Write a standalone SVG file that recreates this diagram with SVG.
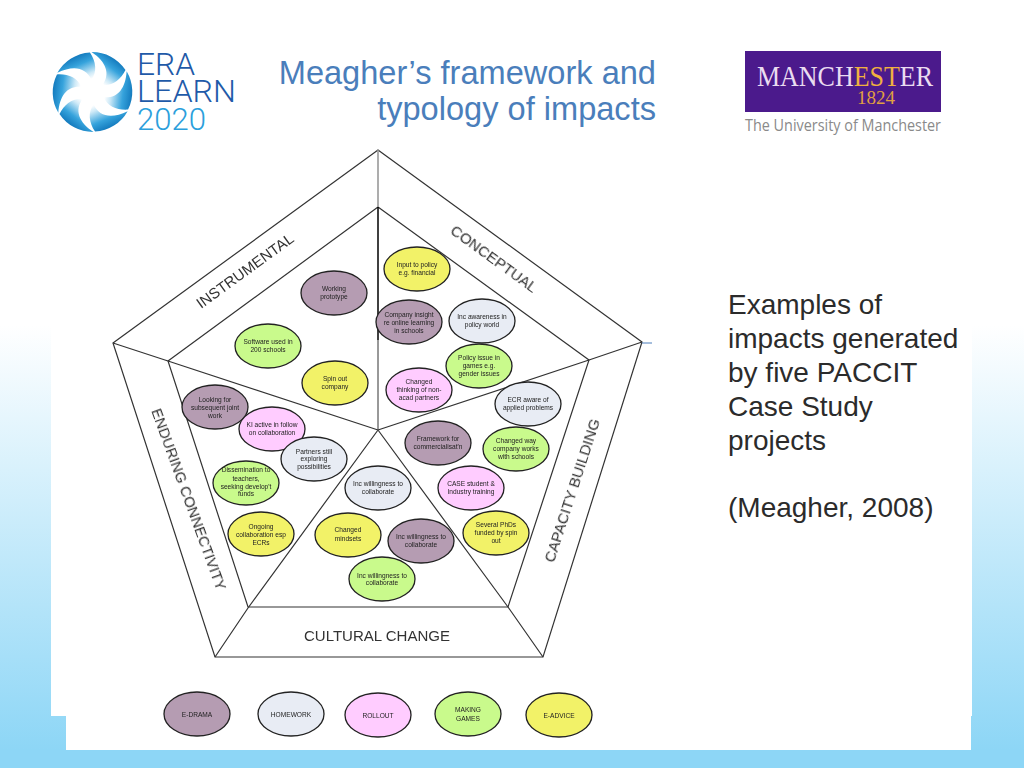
<svg xmlns="http://www.w3.org/2000/svg" width="1024" height="768" viewBox="0 0 1024 768">
<style>
.e{stroke:#222;stroke-width:1.3}
.p{fill:#b59cb2}.w{fill:#e8ecf4}.k{fill:#ffccff}.g{fill:#c9fa8c}.y{fill:#f2f268}
.t{font-family:"Liberation Sans",Arial,sans-serif;font-size:6.6px;fill:#222;text-anchor:middle}
.l{font-family:"Liberation Sans",Arial,sans-serif;font-size:15px;fill:#333;text-anchor:middle}
.h{font-family:"Liberation Sans",Arial,sans-serif;font-size:32.6px;fill:#4a7ebb;text-anchor:end}
.b{font-family:"Liberation Sans",Arial,sans-serif;font-size:28px;fill:#2b2b2b}
.s{fill:none;stroke:#333;stroke-width:1.2}
.r{font-family:Roboto,"Liberation Sans",sans-serif;font-weight:300;font-size:31px}
.m{font-family:"Liberation Serif",serif;fill:#eadcf0}
</style>
<defs>
<filter id="soft" x="-5%" y="-5%" width="110%" height="110%"><feGaussianBlur stdDeviation=".4"/></filter>
<linearGradient id="bg" x1="0" y1="0" x2="0" y2="1"><stop offset="0" stop-color="#fff"/><stop offset="1" stop-color="#8dd6f6"/></linearGradient>
<linearGradient id="bl" gradientUnits="userSpaceOnUse" x1="24" y1="-35" x2="6" y2="-11"><stop offset="0" stop-color="#0a6fb5"/><stop offset=".4" stop-color="#36a3dc"/><stop offset=".8" stop-color="#cde9f7"/><stop offset="1" stop-color="#fff"/></linearGradient>
<path id="blade" d="M-1-40A40 40 0 0 1 33-22C28-12 20-6 10-7C18-18 14-30-1-40Z" fill="url(#bl)"/>
</defs>
<rect width="1024" height="768" fill="#fff"/>
<rect y="325" width="1024" height="425" fill="url(#bg)"/>
<rect y="750" width="1024" height="18" fill="#8dd6f6"/>
<rect x="51" y="300" width="921" height="416" fill="#fff"/>
<rect x="66" y="700" width="905" height="50" fill="#fff"/>

<g id="logo-era-learn">
<g transform="translate(92.500 92)">
<use href="#blade"/><use href="#blade" transform="rotate(60)"/><use href="#blade" transform="rotate(120)"/><use href="#blade" transform="rotate(180)"/><use href="#blade" transform="rotate(240)"/><use href="#blade" transform="rotate(300)"/>
</g>
<text class="r" x="137" y="75" fill="#1f5aa8" textLength="58" lengthAdjust="spacingAndGlyphs">ERA</text>
<text class="r" x="137" y="102" fill="#1f5aa8" textLength="99" lengthAdjust="spacingAndGlyphs">LEARN</text>
<text class="r" x="137" y="130" fill="#2b9fdc" textLength="69" lengthAdjust="spacingAndGlyphs">2020</text>
</g>

<g id="title">
<text class="h" x="656" y="84">Meagher’s framework and</text>
<text class="h" x="656" y="120">typology of impacts</text>
</g>

<g id="logo-manchester">
<rect x="745" y="51" width="196" height="61" fill="#4b1a8c"/>
<text class="m" x="757" y="86" font-size="29" textLength="176" lengthAdjust="spacingAndGlyphs">MANCH<tspan style="fill:#f0b040">EST</tspan>ER</text>
<text x="857" y="103.500" font-family="'Liberation Serif',serif" font-size="19" fill="#e0a040" textLength="38" lengthAdjust="spacingAndGlyphs">1824</text>
<text x="745" y="130.500" font-family="'Open Sans',sans-serif" font-size="16.5" fill="#8a8a8a" textLength="196" lengthAdjust="spacingAndGlyphs">The University of Manchester</text>
</g>

<g id="connectors" filter="url(#soft)">
<path class="s" d="M378 150L642 342L543 657H215L113 343Z"/>
<path class="s" d="M378 207L589 360L508 607H248L168 361Z"/>
<path class="s" d="M113 343L168 361M642 342L589 360M543 657L508 607M215 657L248 608"/>
<path d="M378 150V207" stroke="#999" stroke-width="1.6" fill="none"/>
<path d="M378 207V340" stroke="#000" stroke-width="1.5" fill="none"/>
<path d="M378 340V430" stroke="#555" stroke-width="1.2" fill="none"/>
<path class="s" d="M378 430L589 360M378 430L508 607M378 430L248 608M378 430L168 361"/>
<path d="M642 343H652" stroke="#4a7ebb" stroke-width="1"/>
</g>

<g id="labels" filter="url(#soft)">
<text class="l" transform="translate(248 275) rotate(-36)" textLength="116" lengthAdjust="spacingAndGlyphs">INSTRUMENTAL</text>
<text class="l" transform="translate(491 263) rotate(36)" textLength="103" lengthAdjust="spacingAndGlyphs">CONCEPTUAL</text>
<text class="l" transform="translate(577 492) rotate(-72)" textLength="150" lengthAdjust="spacingAndGlyphs">CAPACITY BUILDING</text>
<text class="l" transform="translate(184 501) rotate(70)" textLength="192" lengthAdjust="spacingAndGlyphs">ENDURING CONNECTIVITY</text>
<text class="l" x="377" y="641" textLength="146" lengthAdjust="spacingAndGlyphs">CULTURAL CHANGE</text>
</g>

<g id="nodes" filter="url(#soft)">
<g id="n1"><ellipse class="e p" cx="334" cy="293" rx="33" ry="22"/><text class="t" x="334" y="291">Working</text><text class="t" x="334" y="299">prototype</text></g>
<g id="n2"><ellipse class="e g" cx="268" cy="346" rx="33" ry="22"/><text class="t" x="268" y="344">Software used in</text><text class="t" x="268" y="352">200 schools</text></g>
<g id="n3"><ellipse class="e y" cx="335" cy="383" rx="33" ry="22"/><text class="t" x="335" y="381">Spin out</text><text class="t" x="335" y="389">company</text></g>
<g id="n4"><ellipse class="e y" cx="417" cy="269" rx="33" ry="22"/><text class="t" x="417" y="267">Input to policy</text><text class="t" x="417" y="275">e.g. financial</text></g>
<g id="n5"><ellipse class="e p" cx="409" cy="322" rx="33" ry="22"/><text class="t" x="409" y="317">Company insight</text><text class="t" x="409" y="325">re online learning</text><text class="t" x="409" y="333">in schools</text></g>
<g id="n6"><ellipse class="e w" cx="482" cy="321" rx="33" ry="22"/><text class="t" x="482" y="319">Inc awareness in</text><text class="t" x="482" y="327">policy world</text></g>
<g id="n7"><ellipse class="e g" cx="479" cy="366" rx="33" ry="22"/><text class="t" x="479" y="360">Policy issue in</text><text class="t" x="479" y="368">games e.g.</text><text class="t" x="479" y="376">gender issues</text></g>
<g id="n8"><ellipse class="e k" cx="419" cy="390" rx="33" ry="22"/><text class="t" x="419" y="384">Changed</text><text class="t" x="419" y="392">thinking of non-</text><text class="t" x="419" y="400">acad partners</text></g>
<g id="n9"><ellipse class="e w" cx="528" cy="404" rx="33" ry="22"/><text class="t" x="528" y="402">ECR aware of</text><text class="t" x="528" y="410">applied problems</text></g>
<g id="n10"><ellipse class="e p" cx="438" cy="443" rx="33" ry="22"/><text class="t" x="438" y="441">Framework for</text><text class="t" x="438" y="449">commercialisat'n</text></g>
<g id="n11"><ellipse class="e g" cx="516" cy="449" rx="33" ry="22"/><text class="t" x="516" y="443">Changed way</text><text class="t" x="516" y="451">company works</text><text class="t" x="516" y="459">with schools</text></g>
<g id="n12"><ellipse class="e k" cx="471" cy="488" rx="33" ry="22"/><text class="t" x="471" y="486">CASE student &amp;</text><text class="t" x="471" y="494">Industry training</text></g>
<g id="n13"><ellipse class="e y" cx="496" cy="533" rx="33" ry="22"/><text class="t" x="496" y="527">Several PhDs</text><text class="t" x="496" y="535">funded by spin</text><text class="t" x="496" y="543">out</text></g>
<g id="n14"><ellipse class="e p" cx="421" cy="541" rx="33" ry="22"/><text class="t" x="421" y="539">Inc willingness to</text><text class="t" x="421" y="547">collaborate</text></g>
<g id="n15"><ellipse class="e w" cx="378" cy="488" rx="33" ry="22"/><text class="t" x="378" y="486">Inc willingness to</text><text class="t" x="378" y="494">collaborate</text></g>
<g id="n16"><ellipse class="e y" cx="348" cy="535" rx="33" ry="22"/><text class="t" x="348" y="532">Changed</text><text class="t" x="348" y="541">mindsets</text></g>
<g id="n17"><ellipse class="e g" cx="382" cy="579" rx="33" ry="22"/><text class="t" x="382" y="578">Inc willingness to</text><text class="t" x="382" y="585">collaborate</text></g>
<g id="n18"><ellipse class="e p" cx="215" cy="407" rx="33" ry="22"/><text class="t" x="215" y="402">Looking for</text><text class="t" x="215" y="410">subsequent joint</text><text class="t" x="215" y="418">work</text></g>
<g id="n19"><ellipse class="e k" cx="272" cy="429" rx="33" ry="22"/><text class="t" x="272" y="427">KI active in follow</text><text class="t" x="272" y="435">on collaboration</text></g>
<g id="n20"><ellipse class="e w" cx="314" cy="459" rx="33" ry="22"/><text class="t" x="314" y="454">Partners still</text><text class="t" x="314" y="461">exploring</text><text class="t" x="314" y="469">possibilities</text></g>
<g id="n21"><ellipse class="e g" cx="246" cy="483" rx="33" ry="22"/><text class="t" x="246" y="472">Dissemination to</text><text class="t" x="246" y="481">teachers,</text><text class="t" x="246" y="489">seeking develop't</text><text class="t" x="246" y="496">funds</text></g>
<g id="n22"><ellipse class="e y" cx="261" cy="534" rx="33" ry="22"/><text class="t" x="261" y="529">Ongoing</text><text class="t" x="261" y="537">collaboration esp</text><text class="t" x="261" y="545">ECRs</text></g>

<g id="legend-e-drama"><ellipse class="e p" cx="197" cy="714" rx="33" ry="22"/><text class="t" x="197" y="717">E-DRAMA</text></g>
<g id="legend-homework"><ellipse class="e w" cx="291" cy="714" rx="33" ry="22"/><text class="t" x="291" y="717">HOMEWORK</text></g>
<g id="legend-rollout"><ellipse class="e k" cx="378" cy="715" rx="33" ry="22"/><text class="t" x="378" y="718">ROLLOUT</text></g>
<g id="legend-making-games"><ellipse class="e g" cx="468" cy="714" rx="33" ry="22"/><text class="t" x="468" y="712">MAKING</text><text class="t" x="468" y="721">GAMES</text></g>
<g id="legend-e-advice"><ellipse class="e y" cx="559" cy="715" rx="33" ry="22"/><text class="t" x="559" y="718">E-ADVICE</text></g>
</g>

<g id="caption">
<text class="b" x="728" y="314">Examples of</text>
<text class="b" x="728" y="348">impacts generated</text>
<text class="b" x="728" y="382">by five PACCIT</text>
<text class="b" x="728" y="416">Case Study</text>
<text class="b" x="728" y="450">projects</text>
<text class="b" x="728" y="517">(Meagher, 2008)</text>
</g>
</svg>
